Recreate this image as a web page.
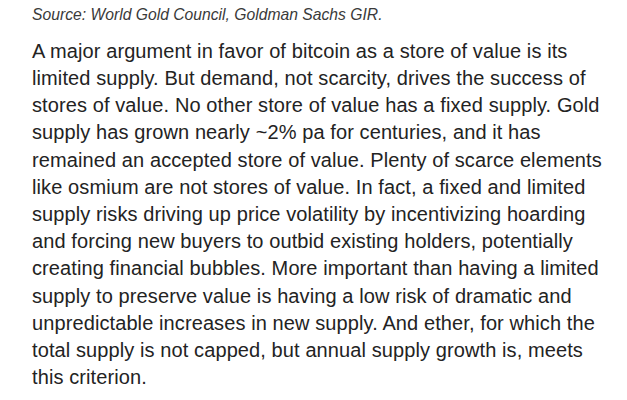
<!DOCTYPE html>
<html>
<head>
<meta charset="utf-8">
<script src="https://cdn.jsdelivr.net/npm/chart.js@4"></script>
<style>
  html, body { margin: 0; padding: 0; background: #fff; }
  body { width: 627px; height: 400px; overflow: hidden; position: relative; font-family: "Liberation Sans", Arial, sans-serif; color: #232323; }
  #source { position: absolute; left: 32px; top: 7.4px; font-size: 15.7px; line-height: 1; font-style: italic; color: #3a3a3a; white-space: nowrap; }
  #text { position: absolute; left: 32px; top: 37.8px; font-size: 20px; line-height: 27.2px; letter-spacing: 0.1px; white-space: nowrap; }
</style>
</head>
<body>
<div id="source"></div>
<div id="text"></div>
<script>
  const source = 'Source: World Gold Council, Goldman Sachs GIR.';
  const lines = [
    'A major argument in favor of bitcoin as a store of value is its',
    'limited supply. But demand, not scarcity, drives the success of',
    'stores of value. No other store of value has a fixed supply. Gold',
    'supply has grown nearly ~2% pa for centuries, and it has',
    'remained an accepted store of value. Plenty of scarce elements',
    'like osmium are not stores of value. In fact, a fixed and limited',
    'supply risks driving up price volatility by incentivizing hoarding',
    'and forcing new buyers to outbid existing holders, potentially',
    'creating financial bubbles. More important than having a limited',
    'supply to preserve value is having a low risk of dramatic and',
    'unpredictable increases in new supply. And ether, for which the',
    'total supply is not capped, but annual supply growth is, meets',
    'this criterion.',
  ];

  document.getElementById('source').textContent = source;
  const box = document.getElementById('text');
  lines.forEach(function (l) {
    const d = document.createElement('div');
    d.textContent = l;
    box.appendChild(d);
  });
</script>
</body>
</html>
